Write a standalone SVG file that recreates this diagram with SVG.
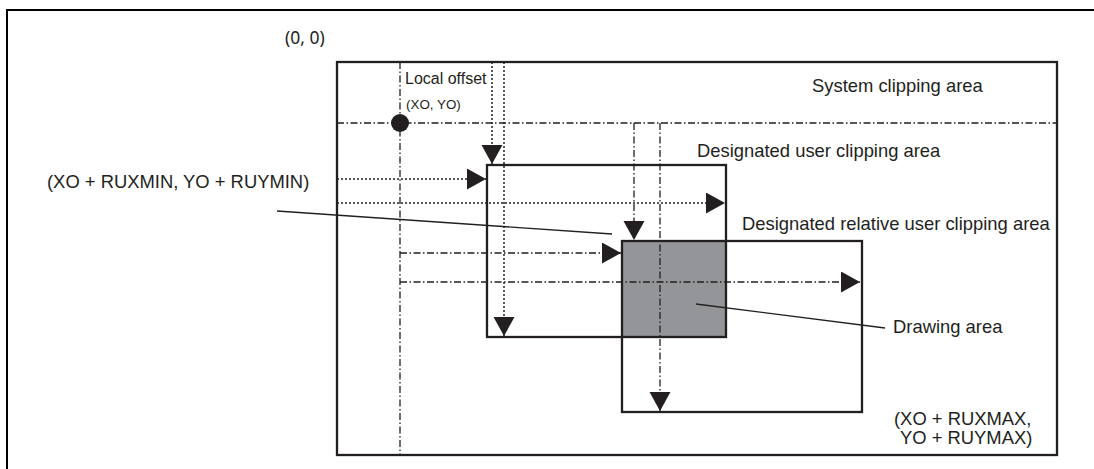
<svg xmlns="http://www.w3.org/2000/svg" width="1094" height="469" viewBox="0 0 1094 469">
<style>
text{font-family:"Liberation Sans",Arial,sans-serif;font-size:18.4px;fill:#231f20}
.box{fill:none;stroke:#231f20;stroke-width:2.3}
.dd{stroke:#231f20;stroke-width:1.3;stroke-dasharray:7 2.5 1.5 2.5;fill:none}
.dot{stroke:#231f20;stroke-width:1.5;stroke-dasharray:2 2;fill:none}
.lead{stroke:#231f20;stroke-width:1.3;fill:none}
</style>
<defs>
<marker id="arr" markerUnits="userSpaceOnUse" markerWidth="22" markerHeight="22" refX="19" refY="10.5" orient="auto">
<path d="M0,0 L19,10.5 L0,21 Z" fill="#231f20"/>
</marker>
</defs>
<rect width="1094" height="469" fill="#fff"/>
<g id="frame"><rect x="7" y="10" width="1100" height="470" fill="none" stroke="#000" stroke-width="2"/></g>
<g id="origin"><text x="285" y="44" style="font-family:'Noto Sans','Open Sans',sans-serif;font-size:17.5px">(0, 0)</text></g>
<g id="drawing-area"><rect x="622" y="241" width="104" height="96" fill="#939598"/></g>
<g id="system-area"><rect class="box" x="337" y="62" width="720" height="393"/><text x="812" y="92">System clipping area</text></g>
<g id="user-area"><rect class="box" x="487" y="165" width="239" height="172"/><text x="697" y="157">Designated user clipping area</text></g>
<g id="relative-area"><rect class="box" x="622" y="241" width="240" height="171" stroke-width="2.6"/><text x="742" y="230">Designated relative user clipping area</text></g>
<g id="connectors">
<line class="dd" x1="337" y1="123" x2="1057" y2="123"/>
<line class="dd" x1="400" y1="62" x2="400" y2="455"/>
<line class="dd" x1="634" y1="123" x2="634" y2="240" marker-end="url(#arr)"/>
<line class="dd" x1="660" y1="123" x2="660" y2="411" marker-end="url(#arr)"/>
<line class="dd" x1="400" y1="253" x2="621" y2="253" marker-end="url(#arr)"/>
<line class="dd" x1="400" y1="282" x2="860" y2="282" marker-end="url(#arr)"/>
<line class="dot" x1="492" y1="62" x2="492" y2="164" marker-end="url(#arr)"/>
<line class="dot" x1="504" y1="62" x2="504" y2="336" marker-end="url(#arr)"/>
<line class="dot" x1="337" y1="179" x2="486" y2="179" marker-end="url(#arr)"/>
<line class="dot" x1="337" y1="203" x2="725" y2="203" marker-end="url(#arr)"/>
<line class="lead" x1="277" y1="211" x2="612" y2="234"/>
<line class="lead" x1="696" y1="304" x2="885" y2="328"/>
</g>
<g id="local-offset"><circle cx="400" cy="123" r="9" fill="#231f20"/><text x="405" y="84" style="font-size:16px">Local offset</text><text x="406" y="109" style="font-size:13.4px">(XO, YO)</text></g>
<g id="labels">
<text x="47" y="188">(XO + RUXMIN, YO + RUYMIN)</text>
<text x="893" y="333">Drawing area</text>
<text x="894" y="425">(XO + RUXMAX,</text>
<text x="900" y="444">YO + RUYMAX)</text>
</g>
</svg>
